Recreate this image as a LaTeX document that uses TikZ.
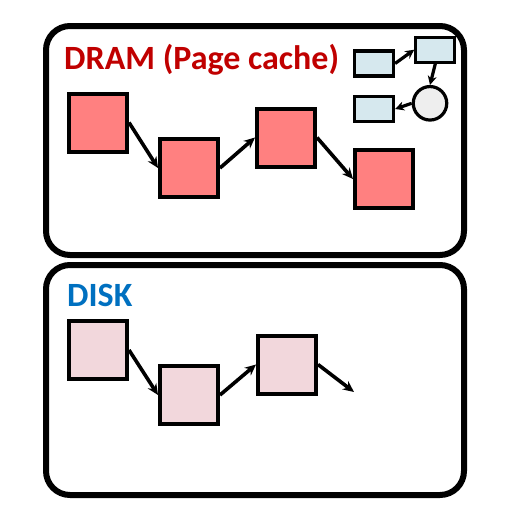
\documentclass[tikz,border=0pt]{standalone}
\usepackage{fontspec}
\setmainfont{Carlito}
\usetikzlibrary{arrows.meta,shadows}
\definecolor{dramred}{RGB}{192,0,0}
\definecolor{diskblue}{RGB}{0,112,192}
\definecolor{pagered}{RGB}{255,128,128}
\definecolor{pagepink}{RGB}{242,215,220}
\definecolor{lightblue}{RGB}{214,232,238}
\definecolor{lightgray}{RGB}{238,238,238}
\tikzset{
  region/.style={draw=black,line width=6pt,rounded corners=24pt},
  pagebox/.style={draw=black,line width=4pt,minimum width=58pt,minimum height=58pt,inner sep=0pt,
    drop shadow={opacity=0.25,shadow xshift=1pt,shadow yshift=-2pt}},
  dram/.style={pagebox,fill=pagered},
  disk/.style={pagebox,fill=pagepink},
  smallbox/.style={draw=black,line width=3.2pt,fill=lightblue,minimum width=39pt,minimum height=25pt,inner sep=0pt},
  smallcirc/.style={draw=black,line width=3.2pt,fill=lightgray,circle,minimum size=33.5pt,inner sep=0pt},
  link/.style={line width=3.6pt,-{Stealth[length=11pt,width=10pt]}},
  slink/.style={line width=3.2pt,-{Stealth[length=9pt,width=9pt]}},
  title/.style={font=\bfseries\fontsize{34}{38}\selectfont,inner sep=0pt,anchor=base west}
}
\begin{document}
\begin{tikzpicture}[x=1pt,y=-1pt]
\useasboundingbox (0,0) rectangle (509,520);
% regions
\draw[region] (46,26) rectangle (464,255);
\draw[region] (46,265) rectangle (464,495);
% titles
\node[title,text=dramred] (dramt) at (64,69.3) {DRAM (Page cache)};
\node[title,text=diskblue] (diskt) at (67,306.5) {DISK};
% DRAM pages
\node[dram] (r1) at (98,122.5) {};
\node[dram] (r2) at (189,168) {};
\node[dram] (r3) at (286,137.5) {};
\node[dram] (r4) at (384,179) {};
\draw[link] (r1.east) -- (r2.west);
\draw[link] (r2.east) -- (r3.west);
\draw[link] (r3.east) -- (r4.west);
% DISK pages
\node[disk] (d1) at (98,350) {};
\node[disk] (d2) at (189,395) {};
\node[disk] (d3) at (287,364.5) {};
\coordinate (dend) at (354,392);
\draw[link] (d1.east) -- (d2.west);
\draw[link] (d2.east) -- (d3.west);
\draw[link] (d3.east) -- (dend);
% small structure
\node[smallbox] (sa) at (374,63.5) {};
\node[smallbox] (sb) at (435.3,49.7) {};
\node[smallcirc] (sc) at (430,103.3) {};
\node[smallbox] (sd) at (374,109) {};
\draw[slink] (sa.east) -- (sb.west);
\draw[slink] (sb.south) -- (sc.north);
\draw[slink] (sc.west) -- (sd.east);
\end{tikzpicture}
\end{document}
